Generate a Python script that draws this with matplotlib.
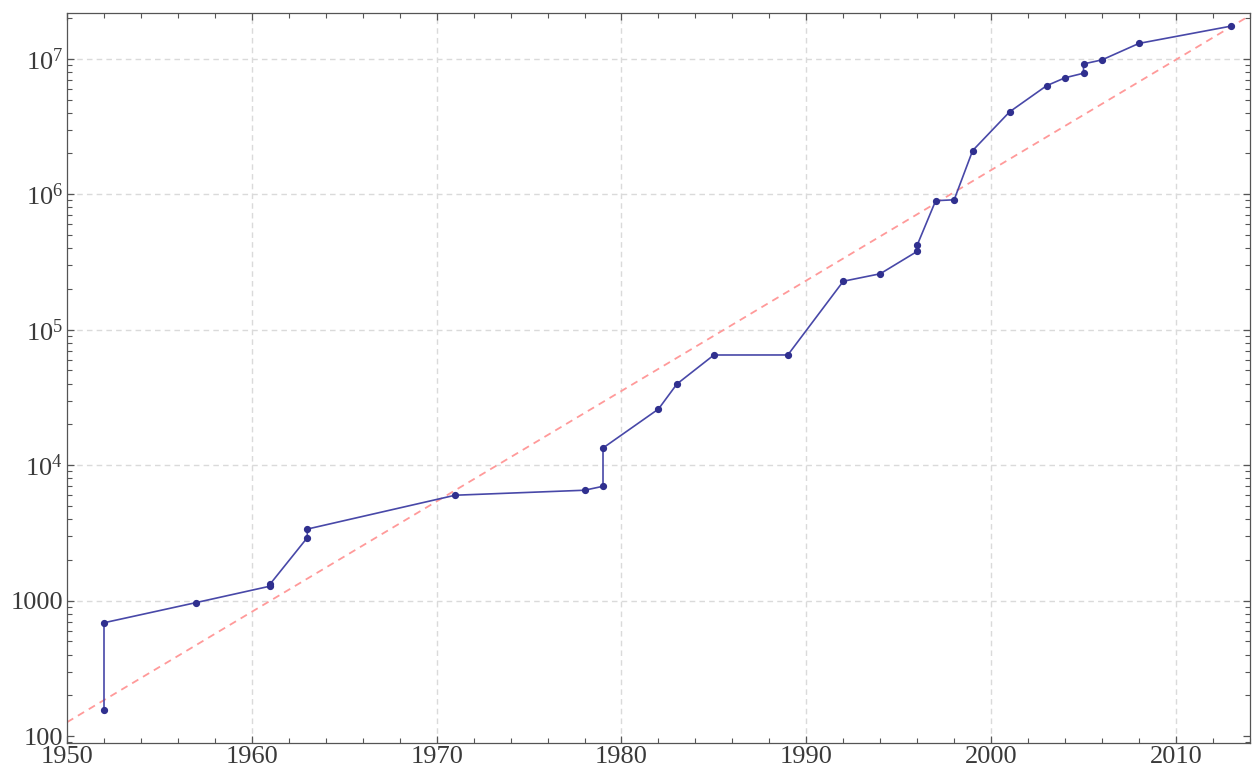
import numpy as np
import matplotlib
matplotlib.use("Agg")
import matplotlib.pyplot as plt
from matplotlib.ticker import FixedLocator, FuncFormatter, LogLocator, NullFormatter, MultipleLocator

years = [1952, 1952, 1957, 1961, 1961, 1963, 1963, 1971, 1978, 1979, 1979,
         1982, 1983, 1985, 1989, 1992, 1994, 1996, 1996, 1997, 1998, 1999,
         2001, 2003, 2004, 2005, 2005, 2006, 2008, 2013]
digits = [157, 687, 969, 1281, 1332, 2917, 3376, 6002, 6533, 6987, 13395,
          25962, 39751, 65050, 65087, 227832, 258716, 378632, 420921, 895932,
          909526, 2098960, 4053946, 6320430, 7235733, 7816230, 9152052,
          9808358, 12978189, 17425170]

# exponential trend: log10(digits) = fit_log10_at_1950 + fit_slope * (year - 1950)
fit_log10_at_1950 = 2.103
fit_slope = 0.0815

plt.rcParams['font.family'] = ['Liberation Serif', 'DejaVu Serif']
plt.rcParams['mathtext.fontset'] = 'custom'
plt.rcParams['mathtext.rm'] = 'Liberation Serif'
plt.rcParams['mathtext.it'] = 'Liberation Serif:italic'

fig = plt.figure(figsize=(12.53, 7.71), dpi=100)
ax = fig.add_axes([0.0535, 0.0363, 0.944, 0.947])

xmin, xmax = 1950, 2014
ax.set_xlim(xmin, xmax)
ax.set_yscale('log')
ax.set_ylim(89, 2.18e7)

# grid
for gx in [1960, 1970, 1980, 1990, 2000, 2010]:
    ax.axvline(gx, color='#dadada', lw=1.0, ls=(0, (4, 3)), zorder=0)
for gy in [1e3, 1e4, 1e5, 1e6, 1e7]:
    ax.axhline(gy, color='#dadada', lw=1.0, ls=(0, (4, 3)), zorder=0)

# trend
tx = np.array([xmin, xmax])
ty = 10 ** (fit_log10_at_1950 + fit_slope * (tx - 1950))
ax.plot(tx, ty, color='#ff9a9a', lw=1.3, ls=(0, (4, 3)), zorder=2)

# data
ax.plot(years, digits, color='#4848a8', lw=1.2, marker='o', ms=4.2,
        mfc='#30308f', mec='#30308f', zorder=3)

# ticks
ax.xaxis.set_major_locator(FixedLocator([1950, 1960, 1970, 1980, 1990, 2000, 2010]))
ax.xaxis.set_minor_locator(MultipleLocator(2))
ax.yaxis.set_major_locator(FixedLocator([1e2, 1e3, 1e4, 1e5, 1e6, 1e7]))
ax.yaxis.set_minor_locator(LogLocator(base=10, subs=np.arange(2, 10)))
ax.yaxis.set_minor_formatter(NullFormatter())

def yfmt(v, pos):
    e = int(round(np.log10(v)))
    if e <= 3:
        return str(int(round(v)))
    return r'$10^{%d}$' % e

ax.yaxis.set_major_formatter(FuncFormatter(yfmt))

ax.tick_params(which='both', direction='in', top=True, right=True,
               color='#555555', labelsize=19, labelcolor='#3a3a3a')
ax.tick_params(which='major', length=5, width=0.9, pad=3)
ax.tick_params(which='minor', length=3.5, width=0.8)
ax.tick_params(axis='x', which='major', pad=2.5)
for s in ax.spines.values():
    s.set_color('#555555')
    s.set_linewidth(0.9)

fig.savefig('out.png', dpi=100)
